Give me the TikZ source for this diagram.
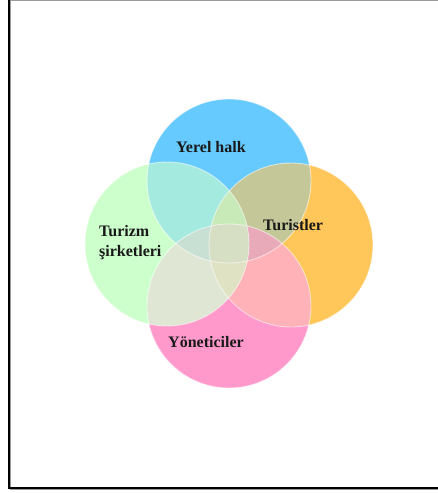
\documentclass[tikz,border=0pt]{standalone}
\usepackage{fontspec}
\usepackage{tikz}
\usetikzlibrary{positioning}
\newfontfamily\setfont{Liberation Serif}
\definecolor{halkc}{HTML}{66CAFF}
\definecolor{sirketc}{HTML}{CCFFCC}
\definecolor{turistc}{HTML}{FFC75A}
\definecolor{yonetc}{HTML}{FF99CC}
\definecolor{framec}{HTML}{9A9A9A}
\tikzset{
  setnode/.style={circle, minimum size=164pt, inner sep=0pt},
  softnode/.style={setnode, fill opacity=0.62},
  edgeline/.style={draw=white, draw opacity=0.55, line width=0.9pt},
  labelnode/.style={font=\setfont\fontsize{16}{20}\selectfont\bfseries,
    align=left, text=black!90, inner sep=0pt},
}

\begin{document}
\begin{tikzpicture}[x=1pt, y=-1pt]
  \useasboundingbox (0,0) rectangle (438,493);
  % frame
  \draw[framec, line width=1pt] (9,0.5) -- (438,0.5);
  \draw[framec, line width=1pt] (10.5,0) -- (10.5,489.5) -- (438,489.5);
  \draw[black, line width=1.8pt] (8.8,0) -- (8.8,488.2) -- (438,488.2);
  % sets, see-through where they meet
  \node[setnode, fill=halkc] (halk) at (229,181) {};
  \node[softnode, fill=turistc] (turist) at (291,245) {};
  \node[softnode, fill=yonetc] (yonet) at (229,306) {};
  \node[softnode, fill=sirketc] (sirket) at (167,244) {};
  % full colour where a set stands alone
  \begin{scope}[even odd rule]
    \clip (turist.center) circle[radius=82];
    \clip (0,0) rectangle (438,493) (halk.center) circle[radius=82];
    \clip (0,0) rectangle (438,493) (yonet.center) circle[radius=82];
    \clip (0,0) rectangle (438,493) (sirket.center) circle[radius=82];
    \fill[turistc] (turist.center) circle[radius=82];
  \end{scope}
  \begin{scope}[even odd rule]
    \clip (yonet.center) circle[radius=82];
    \clip (0,0) rectangle (438,493) (halk.center) circle[radius=82];
    \clip (0,0) rectangle (438,493) (turist.center) circle[radius=82];
    \clip (0,0) rectangle (438,493) (sirket.center) circle[radius=82];
    \fill[yonetc] (yonet.center) circle[radius=82];
  \end{scope}
  \begin{scope}[even odd rule]
    \clip (sirket.center) circle[radius=82];
    \clip (0,0) rectangle (438,493) (halk.center) circle[radius=82];
    \clip (0,0) rectangle (438,493) (turist.center) circle[radius=82];
    \clip (0,0) rectangle (438,493) (yonet.center) circle[radius=82];
    \fill[sirketc] (sirket.center) circle[radius=82];
  \end{scope}
  % soft rims
  \foreach \s in {halk,turist,yonet,sirket}
    \draw[edgeline] (\s.center) circle[radius=82];
  % labels
  \node[labelnode, anchor=base west] (halklbl) at (176,152) {Yerel halk};
  \node[labelnode, anchor=base west] (turistlbl) at (263,230) {Turistler};
  \node[labelnode, anchor=west] (sirketlbl) at (99,243) {Turizm\\şirketleri};
  \node[labelnode, anchor=base west] (yonetlbl) at (168,347) {Yöneticiler};
\end{tikzpicture}
\end{document}
